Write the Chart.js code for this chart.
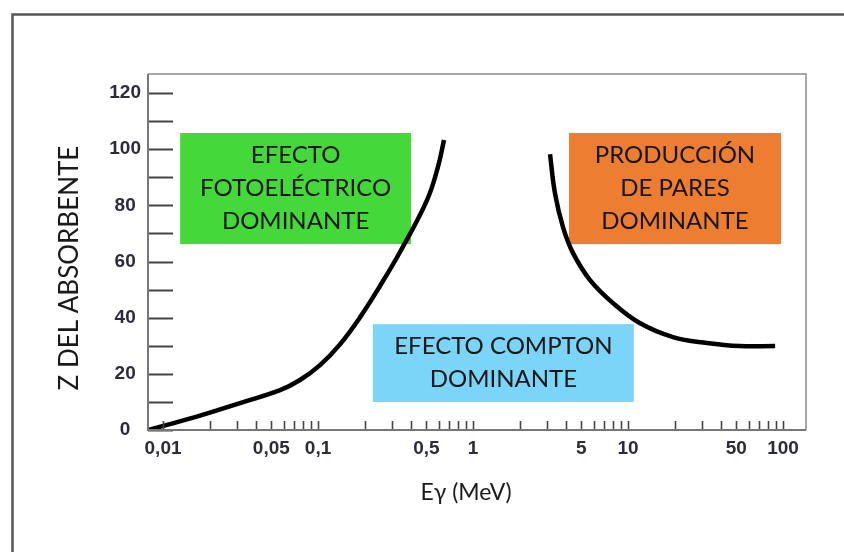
<!DOCTYPE html>
<html>
<head>
<meta charset="utf-8">
<script src="https://cdn.jsdelivr.net/npm/chart.js@4.4.1/dist/chart.umd.min.js"></script>
<style>
  html, body { margin: 0; padding: 0; background: #fff; }
  #wrap { position: relative; width: 844px; height: 552px; }
</style>
</head>
<body>
<div id="wrap"><canvas id="zChart" width="844" height="552"></canvas></div>
<script>
// --- DATA ---
// boundary photoelectric / Compton
const photoE = [0.008, 0.0161, 0.0314, 0.0569, 0.0765, 0.103, 0.139, 0.187, 0.251, 0.338, 0.505, 0.594, 0.650];
const photoZ = [0, 4.6, 9.6, 14.2, 17.8, 23.1, 30.6, 40.2, 51.3, 63.4, 81.9, 93.7, 103.3];
// boundary Compton / pair production
const pairE = [3.14, 3.38, 3.81, 4.42, 5.69, 8.0, 11.9, 19.5, 32.3, 52.7, 88.9];
const pairZ = [98.2, 84.3, 72.2, 63, 53.4, 45.2, 38.1, 33.1, 31, 29.9, 29.9];

const xTicks = [0.01, 0.02, 0.03, 0.04, 0.05, 0.06, 0.07, 0.08, 0.09,
                0.1, 0.2, 0.3, 0.4, 0.5, 0.6, 0.7, 0.8, 0.9,
                1, 2, 3, 4, 5, 6, 7, 8, 9,
                10, 20, 30, 40, 50, 60, 70, 80, 90, 100];
const xLabels = [0.01, 0.05, 0.1, 0.5, 1, 5, 10, 50, 100];
const yTicks = [0, 10, 20, 30, 40, 50, 60, 70, 80, 90, 100, 110, 120];
const yLabels = [0, 20, 40, 60, 80, 100, 120];

// region labels, in axis units (E from..to, Z from..to)
const regions = [
  { e: [0.0129, 0.398], z: [66.2, 105.8], color: '#45d83b', lines: ['EFECTO', 'FOTOELÉCTRICO', 'DOMINANTE'] },
  { e: [0.226, 10.9], z: [10.0, 37.7], color: '#7ad5f8', lines: ['EFECTO COMPTON', 'DOMINANTE'] },
  { e: [4.16, 97.1], z: [66.2, 105.8], color: '#ed7d31', lines: ['PRODUCCIÓN', 'DE PARES', 'DOMINANTE'] },
];

const toPoints = (xs, ys) => xs.map((x, i) => ({ x: x, y: ys[i] }));

// --- DRAWING HELPERS ---
const decorPlugin = {
  id: 'decor',
  beforeDatasetsDraw(chart) {
    const { ctx, scales: { x, y } } = chart;
    ctx.save();
    regions.forEach(r => {
      const x1 = x.getPixelForValue(r.e[0]), x2 = x.getPixelForValue(r.e[1]);
      const y1 = y.getPixelForValue(r.z[1]), y2 = y.getPixelForValue(r.z[0]);
      ctx.fillStyle = r.color;
      ctx.fillRect(x1, y1, x2 - x1, y2 - y1);
      ctx.fillStyle = '#161616';
      ctx.font = '24px Lato';
      ctx.textAlign = 'center';
      ctx.textBaseline = 'middle';
      const cx = (x1 + x2) / 2, cy = (y1 + y2) / 2;
      const step = 33;
      r.lines.forEach((t, i) => {
        ctx.fillText(t, cx, cy + (i - (r.lines.length - 1) / 2) * step);
      });
    });
    ctx.restore();
  },
  afterDraw(chart) {
    const { ctx, chartArea: a, scales: { x, y } } = chart;
    ctx.save();
    // tick marks drawn inside the plot
    ctx.strokeStyle = '#444';
    ctx.lineWidth = 2;
    yTicks.forEach(v => {
      const py = Math.round(y.getPixelForValue(v)) + 0.5;
      ctx.beginPath();
      ctx.moveTo(a.left, py);
      ctx.lineTo(a.left + 25, py);
      ctx.stroke();
    });
    ctx.lineWidth = 1.6;
    xTicks.forEach(v => {
      const px = Math.round(x.getPixelForValue(v)) + 0.5;
      ctx.beginPath();
      ctx.moveTo(px, a.bottom);
      ctx.lineTo(px, a.bottom - 9);
      ctx.stroke();
    });
    // plot frame
    ctx.strokeStyle = '#8a8a8a';
    ctx.lineWidth = 1.5;
    ctx.beginPath();
    ctx.moveTo(a.left, a.top);
    ctx.lineTo(a.right, a.top);
    ctx.lineTo(a.right, a.bottom);
    ctx.stroke();
    ctx.strokeStyle = '#777';
    ctx.lineWidth = 2;
    ctx.beginPath();
    ctx.moveTo(a.left, a.top);
    ctx.lineTo(a.left, a.bottom);
    ctx.lineTo(a.right, a.bottom);
    ctx.stroke();
    // outer frame of the figure
    ctx.strokeStyle = '#555';
    ctx.lineWidth = 2.5;
    ctx.beginPath();
    ctx.moveTo(12.5, chart.height);
    ctx.lineTo(12.5, 14.5);
    ctx.lineTo(chart.width, 14.5);
    ctx.stroke();
    // axis titles
    ctx.fillStyle = '#1a1a1a';
    ctx.textAlign = 'center';
    ctx.textBaseline = 'middle';
    ctx.font = '23px Lato';
    ctx.fillText('Eγ (MeV)', 466, 493);
    ctx.translate(70, 268);
    ctx.rotate(-Math.PI / 2);
    ctx.font = '26px Lato';
    ctx.fillText('Z DEL ABSORBENTE', 0, 0);
    ctx.restore();
  }
};

const tickFont = { family: '"Liberation Sans", Arial, sans-serif', size: 19, weight: 'bold' };

new Chart(document.getElementById('zChart'), {
  type: 'line',
  data: {
    datasets: [
      { data: toPoints(photoE, photoZ) },
      { data: toPoints(pairE, pairZ) },
    ].map(d => Object.assign(d, {
      borderColor: '#000',
      borderWidth: 4.5,
      pointRadius: 0,
      fill: false,
      tension: 0.4,
    }))
  },
  options: {
    responsive: false,
    devicePixelRatio: 1,
    animation: false,
    layout: { padding: { top: 74, right: 38, bottom: 0, left: 0 } },
    plugins: { legend: { display: false }, tooltip: { enabled: false } },
    scales: {
      x: {
        type: 'logarithmic',
        min: 0.008,
        max: 140.7,
        grid: { display: false, drawTicks: false },
        border: { display: false },
        afterBuildTicks: s => { s.ticks = xTicks.map(v => ({ value: v })); },
        afterFit: s => { s.height = 122; },
        ticks: {
          autoSkip: false,
          maxRotation: 0,
          padding: 7,
          color: '#2b2b3b',
          font: tickFont,
          callback: v => xLabels.includes(v) ? String(v).replace('.', ',') : '',
        },
      },
      y: {
        min: 0,
        max: 126.8,
        grid: { display: false, drawTicks: false },
        border: { display: false },
        afterBuildTicks: s => { s.ticks = yTicks.map(v => ({ value: v })); },
        afterFit: s => { s.width = 148; },
        ticks: {
          padding: 7,
          crossAlign: 'center',
          color: '#2b2b3b',
          font: tickFont,
          callback: v => yLabels.includes(v) ? String(v) : '',
        },
      },
    },
  },
  plugins: [decorPlugin],
});
</script>
</body>
</html>
